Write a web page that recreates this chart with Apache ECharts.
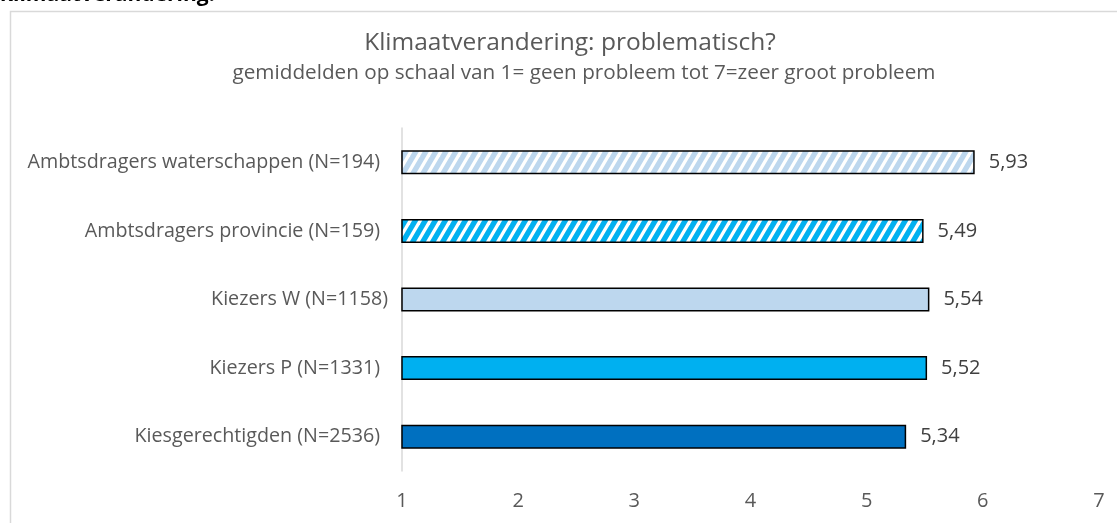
<!DOCTYPE html>
<html>
<head>
<meta charset="utf-8">
<script src="https://cdn.jsdelivr.net/npm/echarts@6/dist/echarts.min.js"></script>
<style>
html,body{margin:0;padding:0;background:#fff;}
#chart{width:1117px;height:523px;}
</style>
</head>
<body>
<div id="chart"></div>
<script>
var categories = ['Kiesgerechtigden (N=2536)', 'Kiezers P (N=1331)', 'Kiezers W (N=1158)', 'Ambtsdragers provincie (N=159)', 'Ambtsdragers waterschappen (N=194)'];
var values = [5.34, 5.52, 5.54, 5.49, 5.93];
var tickLabels = ['1', '2', '3', '4', '5', '6', '7'];
var titleText = 'Klimaatverandering: problematisch?';
var subtitleText = 'gemiddelden op schaal van 1= geen probleem tot 7=zeer groot probleem';
var topText = 'klimaatverandering:';

function stripes(base) {
  var c = document.createElement('canvas');
  var W = 10, H = 17;
  c.width = W; c.height = H;
  var g = c.getContext('2d');
  g.fillStyle = base; g.fillRect(0, 0, W, H);
  g.strokeStyle = '#ffffff';
  g.lineWidth = 3.3;
  for (var k = -1; k <= 1; k++) {
    g.beginPath();
    g.moveTo(k * W - W * 0.5, H * 1.5);
    g.lineTo(k * W + W * 1.5, -H * 0.5);
    g.stroke();
  }
  return {image: c, repeat: 'repeat'};
}

var fills = ['#0070c0', '#00b0f0', '#bdd7ee', stripes('#00b0f0'), stripes('#bdd7ee')];
var font = '"Open Sans", sans-serif';

var chart = echarts.init(document.getElementById('chart'));
chart.setOption({
  animation: false,
  backgroundColor: '#ffffff',
  grid: {left: 402, right: 18, top: 128, bottom: 52},
  graphic: [
    {type: 'rect', shape: {x: 10.5, y: 11.5, width: 1200, height: 600}, style: {fill: 'none', stroke: '#d9d9d9', lineWidth: 1.5}, silent: true},
    {type: 'text', x: 0, y: -15, style: {text: topText, font: 'bold 21px ' + font, fill: '#000000', textVerticalAlign: 'top'}},
    {type: 'text', x: 570, y: 43, style: {text: titleText, font: '24.5px ' + font, fill: '#595959', textAlign: 'center', textVerticalAlign: 'middle'}},
    {type: 'text', x: 584, y: 73, style: {text: subtitleText, font: '20.7px ' + font, fill: '#595959', textAlign: 'center', textVerticalAlign: 'middle'}}
  ],
  xAxis: {
    type: 'value', min: 1, max: 7, interval: 1,
    axisLine: {show: false}, axisTick: {show: false}, splitLine: {show: false},
    axisLabel: {color: '#595959', fontSize: 20, fontFamily: font, margin: 20,
      formatter: function (v) { return tickLabels[Math.round(v) - 1]; }}
  },
  yAxis: {
    type: 'category', data: categories,
    axisLine: {show: true, lineStyle: {color: '#d9d9d9', width: 1.5}},
    axisTick: {show: false},
    axisLabel: {color: '#595959', fontSize: 19.7, fontFamily: font, margin: 14,
      formatter: function (v, i) { return i === 2 ? '{w|' + v + '}' : '{n|' + v + '}'; },
      rich: {
        n: {color: '#595959', fontSize: 19.7, fontFamily: font, padding: [0, 8, 0, 0]},
        w: {color: '#595959', fontSize: 19.7, fontFamily: font}
      }}
  },
  series: [{
    type: 'bar',
    data: values.map(function (v, i) { return {value: v, itemStyle: {color: fills[i]}}; }),
    barWidth: '35%',
    itemStyle: {borderColor: '#000000', borderWidth: 1.5},
    label: {show: true, position: 'right', distance: 14, color: '#404040', fontSize: 20, fontFamily: font,
      formatter: function (p) { return p.value.toFixed(2).replace('.', ','); }}
  }]
});
</script>
</body>
</html>
